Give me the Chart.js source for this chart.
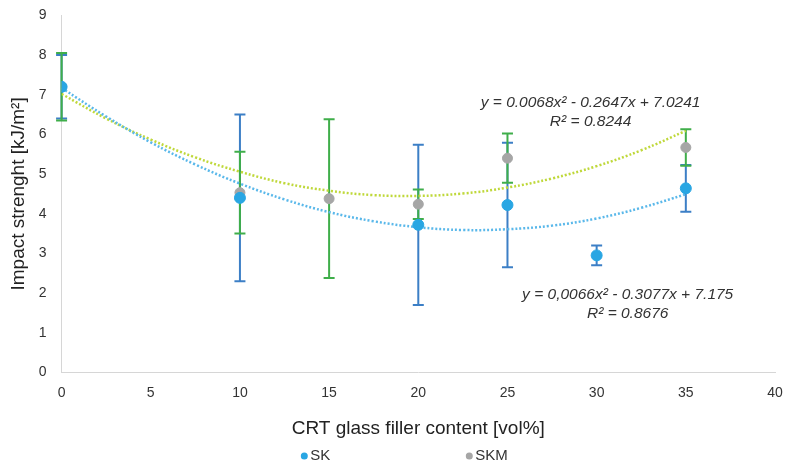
<!DOCTYPE html>
<html>
<head>
<meta charset="utf-8">
<script src="https://cdn.jsdelivr.net/npm/chart.js@4"></script>
<style>
  html, body { margin: 0; padding: 0; background: #fff; }
  #wrap { width: 787px; height: 468px; }
</style>
</head>
<body>
<div id="wrap"><canvas id="chart" width="787" height="468"></canvas></div>
<script>
// filler content [vol%]
const fillerContent = [0, 10, 15, 20, 25, 30, 35];

// measured impact strength + std deviation
const skValues = [7.2, 4.4, null, 3.72, 4.22, 2.95, 4.64];
const skErrors = [0.8, 2.1, null, 2.02, 1.57, 0.25, 0.59];
const skmValues = [7.2, 4.53, 4.38, 4.24, 5.4, null, 5.67];
const skmErrors = [0.85, 1.03, 2.0, 0.37, 0.62, null, 0.46];

// trendlines
const trendX = [0, 2.5, 5, 7.5, 10, 12.5, 15, 17.5, 20, 22.5, 25, 27.5, 30, 32.5, 35];
const skTrend = [7.17, 6.45, 5.8, 5.24, 4.76, 4.36, 4.04, 3.81, 3.66, 3.59, 3.61, 3.7, 3.88, 4.15, 4.49];
const skmTrend = [7.02, 6.4, 5.87, 5.42, 5.06, 4.77, 4.58, 4.47, 4.45, 4.51, 4.66, 4.89, 5.2, 5.6, 6.09];

const xTicks = [0, 5, 10, 15, 20, 25, 30, 35, 40];
const yTicks = [0, 1, 2, 3, 4, 5, 6, 7, 8, 9];

const seriesNames = ['SK', 'SKM'];
const skEquation = ['y = 0,0066x² - 0.3077x + 7.175', 'R² = 0.8676'];
const skmEquation = ['y = 0.0068x² - 0.2647x + 7.0241', 'R² = 0.8244'];

function toPoints(xs, ys) {
    return xs.map((x, i) => ({ x: x, y: ys[i] })).filter(p => p.y !== null);
}

const errorBars = {
    id: 'errorBars',
    beforeDatasetsDraw(chart) {
        const ctx = chart.ctx;
        const xs = chart.scales.x, ys = chart.scales.y;
        const groups = [
            { vals: skValues, errs: skErrors, color: '#3c7fc6' },
            { vals: skmValues, errs: skmErrors, color: '#3fae4a' }
        ];
        ctx.save();
        ctx.lineWidth = 2;
        groups.forEach(g => {
            ctx.strokeStyle = g.color;
            fillerContent.forEach((x, i) => {
                if (g.vals[i] === null) return;
                const px = xs.getPixelForValue(x);
                const top = ys.getPixelForValue(g.vals[i] + g.errs[i]);
                const bot = ys.getPixelForValue(g.vals[i] - g.errs[i]);
                ctx.beginPath();
                ctx.moveTo(px, top); ctx.lineTo(px, bot);
                ctx.moveTo(px - 5.5, top); ctx.lineTo(px + 5.5, top);
                ctx.moveTo(px - 5.5, bot); ctx.lineTo(px + 5.5, bot);
                ctx.stroke();
            });
        });
        ctx.restore();
    }
};

const equations = {
    id: 'equations',
    afterDatasetsDraw(chart) {
        const ctx = chart.ctx;
        const xs = chart.scales.x, ys = chart.scales.y;
        ctx.save();
        ctx.font = 'italic 15.5px "Liberation Sans", Arial, sans-serif';
        ctx.fillStyle = '#333';
        ctx.textAlign = 'center';
        ctx.textBaseline = 'middle';
        const cx1 = xs.getPixelForValue(29.66);
        ctx.fillText(skmEquation[0], cx1, ys.getPixelForValue(6.8));
        ctx.fillText(skmEquation[1], cx1, ys.getPixelForValue(6.32));
        const cx2 = xs.getPixelForValue(31.74);
        ctx.fillText(skEquation[0], cx2, ys.getPixelForValue(1.95));
        ctx.fillText(skEquation[1], cx2, ys.getPixelForValue(1.49));
        ctx.restore();
    }
};

// legend drawn by hand so the two entries can sit far apart
const bottomLegend = {
    id: 'bottomLegend',
    afterDraw(chart) {
        const ctx = chart.ctx;
        const mid = (chart.chartArea.left + chart.chartArea.right) / 2;
        const y = chart.height - 12;
        const items = [
            { text: seriesNames[0], color: '#29a6e3', dx: -114 },
            { text: seriesNames[1], color: '#a6a6a6', dx: 51 }
        ];
        ctx.save();
        ctx.font = '15px "Liberation Sans", Arial, sans-serif';
        ctx.textBaseline = 'middle';
        ctx.textAlign = 'left';
        items.forEach(it => {
            const x = mid + it.dx;
            ctx.fillStyle = it.color;
            ctx.beginPath();
            ctx.arc(x, y, 3.5, 0, Math.PI * 2);
            ctx.fill();
            ctx.fillStyle = '#333';
            ctx.fillText(it.text, x + 6, y);
        });
        ctx.restore();
    }
};

Chart.defaults.font.family = '"Liberation Sans", Arial, sans-serif';
Chart.defaults.color = '#333';

new Chart(document.getElementById('chart'), {
    type: 'scatter',
    data: {
        datasets: [
            {
                label: 'SK',
                data: toPoints(fillerContent, skValues),
                backgroundColor: '#29a6e3',
                borderColor: '#29a6e3',
                pointRadius: 5.5,
                pointStyle: 'circle'
            },
            {
                label: 'SKM',
                data: toPoints(fillerContent, skmValues),
                backgroundColor: '#a6a6a6',
                borderColor: '#a6a6a6',
                pointRadius: 5,
                pointStyle: 'circle'
            },
            {
                label: 'trendSK',
                type: 'line',
                data: toPoints(trendX, skTrend),
                borderColor: '#5ab8ea',
                borderWidth: 2.5,
                borderDash: [2, 2],
                pointRadius: 0,
                tension: 0.4,
                fill: false
            },
            {
                label: 'trendSKM',
                type: 'line',
                data: toPoints(trendX, skmTrend),
                borderColor: '#bfd83a',
                borderWidth: 2.5,
                borderDash: [2, 2],
                pointRadius: 0,
                tension: 0.4,
                fill: false
            }
        ]
    },
    options: {
        responsive: false,
        animation: false,
        layout: { padding: { top: 15, right: 12, left: 4, bottom: 28 } },
        scales: {
            x: {
                type: 'linear',
                min: 0, max: 40,
                afterBuildTicks: axis => { axis.ticks = xTicks.map(v => ({ value: v })); },
                grid: { display: false },
                border: { display: true, color: '#d6d6d6', width: 1 },
                ticks: { font: { size: 14 }, color: '#333', padding: 4 },
                title: {
                    display: true,
                    text: 'CRT glass filler content [vol%]',
                    font: { size: 19 },
                    color: '#222',
                    padding: { top: 12, bottom: 0 }
                }
            },
            y: {
                type: 'linear',
                min: 0, max: 9,
                afterBuildTicks: axis => { axis.ticks = yTicks.map(v => ({ value: v })); },
                grid: { display: false },
                border: { display: true, color: '#d6d6d6', width: 1 },
                ticks: { font: { size: 14 }, color: '#333', padding: 7 },
                title: {
                    display: true,
                    text: 'Impact strenght [kJ/m²]',
                    font: { size: 19 },
                    color: '#222',
                    padding: { top: 3, bottom: 2 }
                }
            }
        },
        plugins: {
            legend: { display: false },
            tooltip: { enabled: false }
        }
    },
    plugins: [errorBars, equations, bottomLegend]
});
</script>
</body>
</html>
